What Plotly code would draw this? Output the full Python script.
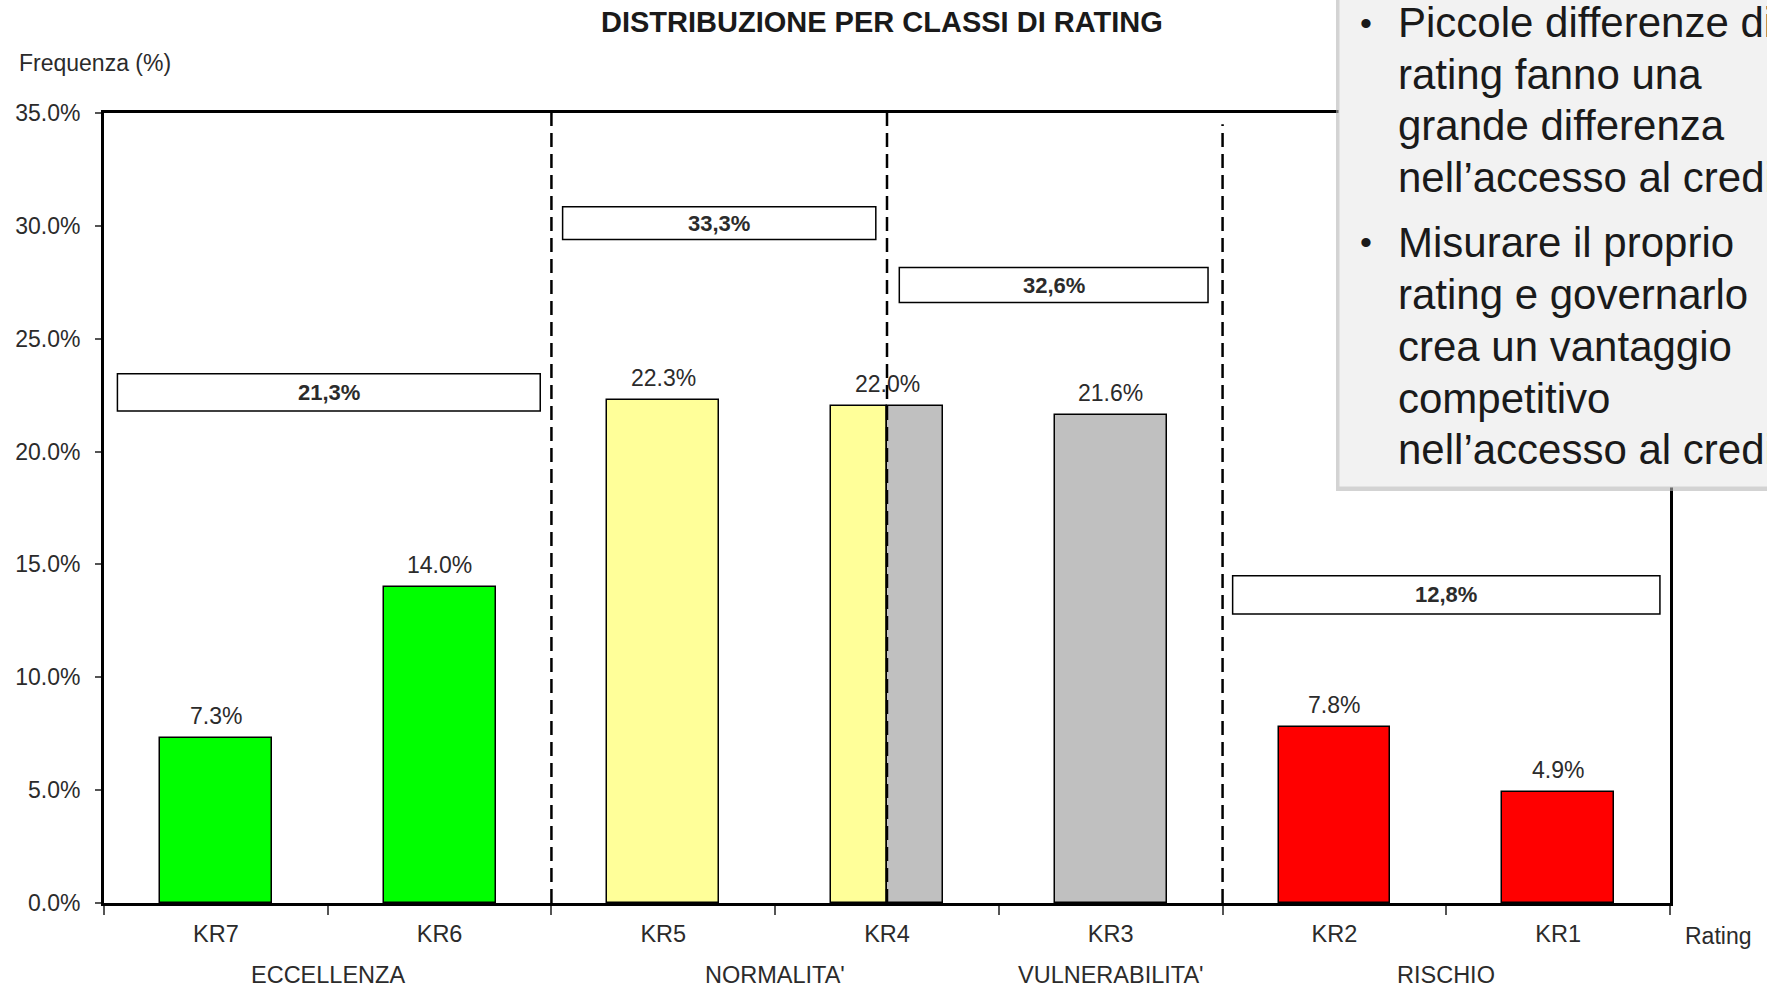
import plotly.graph_objects as go

# Rating classes and frequency (%) of each class
categories = ["KR7", "KR6", "KR5", "KR4", "KR3", "KR2", "KR1"]
freq = [7.3, 14.0, 22.3, 22.0, 21.6, 7.8, 4.9]
bar_colors = ["#00ff00", "#00ff00", "#ffff99", None, "#c0c0c0", "#ff0000", "#ff0000"]
# KR4 is shared between NORMALITA' (left half) and VULNERABILITA' (right half)
split_colors = ["#ffff99", "#c0c0c0"]

# Macro classes, their subtotals and where their labels sit on the x axis
groups = ["ECCELLENZA", "NORMALITA'", "VULNERABILITA'", "RISCHIO"]
group_totals = [21.3, 33.3, 32.6, 12.8]
group_label_x = [0.5, 2.5, 4.0, 5.5]
group_boxes = [(-0.44, 1.45, 21.8, 23.45), (1.55, 2.95, 29.4, 30.85),
               (3.055, 4.435, 26.6, 28.15), (4.545, 6.455, 12.8, 14.5)]
dividers = [(1.5, 35.0), (3.0, 35.0), (4.5, 34.5)]

bullets = [
    ["Piccole differenze di", "rating fanno una", "grande differenza",
     "nell\u2019accesso al credito"],
    ["Misurare il proprio", "rating e governarlo", "crea un vantaggio",
     "competitivo", "nell\u2019accesso al credito"],
]

W, H = 1767, 989
ML, MR, MT, MB = 104, 97, 113, 86
FONT = "Liberation Sans, Arial, sans-serif"
TXT = "#2b2b2b"

def px_x(p):
    return (p - ML) / (W - ML - MR)

def px_y(p):
    return (H - MB - p) / (H - MT - MB)

bx, by, bw, bc = [], [], [], []
for i, (v, c) in enumerate(zip(freq, bar_colors)):
    if c is None:
        for k, sc in enumerate(split_colors):
            bx.append(i - 0.125 + 0.25 * k)
            by.append(v)
            bw.append(0.25)
            bc.append(sc)
    else:
        bx.append(i)
        by.append(v)
        bw.append(0.5)
        bc.append(c)

fig = go.Figure(go.Bar(
    x=bx, y=by, width=bw,
    marker=dict(color=bc, line=dict(color="#000000", width=1.5)),
    hoverinfo="skip", showlegend=False,
))

shapes = []
annotations = []

# value labels above the bars
for i, v in enumerate(freq):
    annotations.append(dict(x=i, y=v, xref="x", yref="y", text=f"{v:.1f}%",
                            showarrow=False, yanchor="bottom", yshift=7,
                            font=dict(size=23, color=TXT, family=FONT)))

# dashed separators between classes
for xv, ytop in dividers:
    shapes.append(dict(type="line", xref="x", yref="y", x0=xv, x1=xv, y0=0, y1=ytop,
                       line=dict(color="#000000", width=2.5, dash="14px,7px"),
                       layer="above"))

# subtotal boxes and class labels
for (x0, x1, y0, y1), tot, name, gx in zip(group_boxes, group_totals, groups, group_label_x):
    shapes.append(dict(type="rect", xref="x", yref="y", x0=x0, x1=x1, y0=y0, y1=y1,
                       fillcolor="#ffffff", line=dict(color="#000000", width=1.5),
                       layer="above"))
    annotations.append(dict(x=(x0 + x1) / 2, y=(y0 + y1) / 2, xref="x", yref="y",
                            text=f"<b>{tot:.1f}%</b>".replace(".", ","), showarrow=False,
                            font=dict(size=22, color=TXT, family=FONT)))
    annotations.append(dict(x=gx, y=px_y(975), xref="x", yref="paper", text=name,
                            showarrow=False, yanchor="middle",
                            font=dict(size=23.5, color=TXT, family=FONT)))

annotations += [
    dict(x=px_x(882), y=px_y(22), xref="paper", yref="paper",
         text="<b>DISTRIBUZIONE PER CLASSI DI RATING</b>", showarrow=False,
         yanchor="middle", font=dict(size=29, color="#1a1a1a", family=FONT)),
    dict(x=px_x(17), y=px_y(63), xref="paper", yref="paper", text="Frequenza (%)",
         showarrow=False, xanchor="left", yanchor="middle",
         font=dict(size=23, color=TXT, family=FONT)),
    dict(x=px_x(1683), y=px_y(936), xref="paper", yref="paper", text="Rating",
         showarrow=False, xanchor="left", yanchor="middle",
         font=dict(size=23, color=TXT, family=FONT)),
]

# side note panel with shadow
shapes.append(dict(type="rect", xref="paper", yref="paper",
                   x0=px_x(1336), x1=px_x(1800), y0=px_y(491), y1=px_y(-10),
                   fillcolor="#b5b5b5", line=dict(width=0), layer="above", opacity=0.6))
shapes.append(dict(type="rect", xref="paper", yref="paper",
                   x0=px_x(1339), x1=px_x(1800), y0=px_y(487), y1=px_y(-10),
                   fillcolor="#f2f2f2", line=dict(color="#d4d4d4", width=1), layer="above"))

line_y = [[22.5, 74.4, 126, 177.5], [242, 294, 346, 398, 449]]
for lines, ys in zip(bullets, line_y):
    annotations.append(dict(x=px_x(1366), y=px_y(ys[0]), xref="paper", yref="paper",
                            text="\u2022", showarrow=False, xanchor="center", yanchor="middle",
                            font=dict(size=34, color="#1a1a1a", family=FONT)))
    for t, yy in zip(lines, ys):
        annotations.append(dict(x=px_x(1396), y=px_y(yy), xref="paper", yref="paper",
                                text=t, showarrow=False, xanchor="left", yanchor="middle",
                                font=dict(size=42, color="#1a1a1a", family=FONT)))

fig.update_layout(
    width=W, height=H,
    margin=dict(l=ML, r=MR, t=MT, b=MB),
    paper_bgcolor="#ffffff", plot_bgcolor="#ffffff",
    shapes=shapes, annotations=annotations,
    bargap=0,
)
fig.update_xaxes(
    range=[-0.5, len(categories) - 0.5],
    tickvals=list(range(len(categories))), ticktext=categories,
    ticks="", showgrid=False, zeroline=False,
    showline=True, linecolor="#000000", linewidth=3, mirror=True,
    tickfont=dict(size=23.5, color=TXT, family=FONT), ticklabelstandoff=8,
    minor=dict(tickmode="linear", tick0=0.5, dtick=1, ticks="outside", ticklen=9,
               tickcolor="#555555", tickwidth=1.5, showgrid=False),
)
fig.update_yaxes(
    range=[0, 35], dtick=5, tickformat=".1f", ticksuffix="%",
    ticks="outside", ticklen=6, tickcolor="#555555", tickwidth=1.5,
    showgrid=False, zeroline=False,
    showline=True, linecolor="#000000", linewidth=3, mirror=True,
    tickfont=dict(size=23, color=TXT, family=FONT), ticklabelstandoff=10,
)

fig.write_html("out.html")
